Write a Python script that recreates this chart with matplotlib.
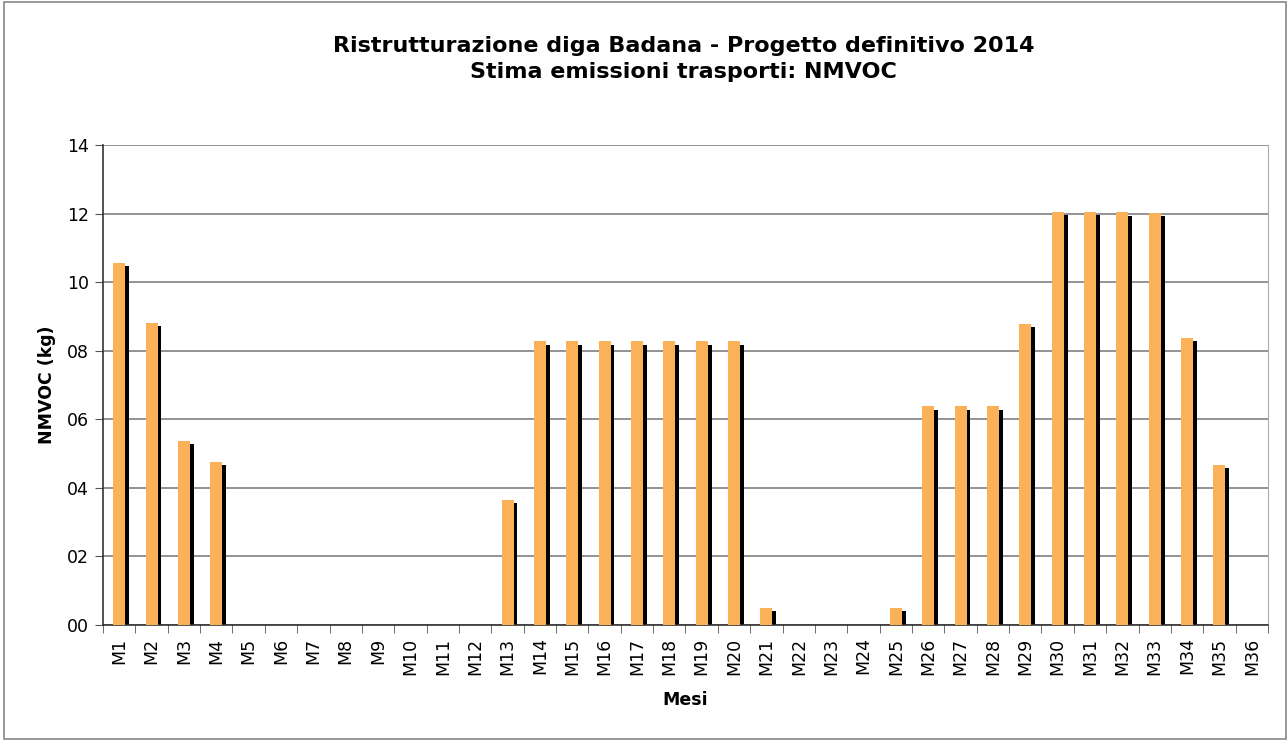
import numpy as np
import matplotlib.pyplot as plt
from matplotlib.patches import Rectangle

months = ['M%d' % i for i in range(1, 37)]
nmvoc = [10.57, 8.82, 5.38, 4.76, 0, 0, 0, 0, 0, 0, 0, 0,
         3.65, 8.27, 8.27, 8.27, 8.27, 8.27, 8.27, 8.27, 0.5, 0, 0, 0,
         0.5, 6.38, 6.38, 6.38, 8.78, 12.06, 12.05, 12.04, 12.03, 8.38, 4.67, 0]
title = 'Ristrutturazione diga Badana - Progetto definitivo 2014\nStima emissioni trasporti: NMVOC'

bar_color = '#FBB157'

fig = plt.figure(figsize=(12.88, 7.40), dpi=100)
fig.patches.append(Rectangle((4 / 1288, 0.001), 1 - 6 / 1288, 0.996,
                             transform=fig.transFigure, fill=False,
                             edgecolor='#888888', linewidth=1.2))
ax = fig.add_axes([103 / 1288, 1 - 625 / 740, (1268 - 103) / 1288, (625 - 145) / 740])

x = np.arange(len(months))
vals = np.array(nmvoc)
w = 0.37
# shadow behind the bars
sh = np.where(vals > 0, np.maximum(vals - 0.1, 0), 0)
ax.bar(x + 0.12, sh, width=w, color='black', zorder=2)
ax.bar(x, vals, width=w, color=bar_color, zorder=3)

ax.set_xlim(-0.5, len(months) - 0.5)
ax.set_ylim(0, 14)
ax.set_yticks(np.arange(0, 15, 2))
ax.set_yticklabels(['%02d' % v for v in range(0, 15, 2)], fontsize=12.5)
ax.yaxis.grid(True, color='#808080', linewidth=1.2, zorder=0)
ax.set_axisbelow(True)

ax.set_xticks(x)
ax.set_xticklabels(months, rotation=90, fontsize=12.5)
ax.set_xticks(np.arange(-0.5, len(months), 1), minor=True)
ax.tick_params(axis='x', which='major', length=0, pad=9)
ax.tick_params(axis='x', which='minor', length=6, color='#555555')
ax.tick_params(axis='y', length=6, color='#555555', pad=4)

for s in ['left', 'bottom']:
    ax.spines[s].set_color('#333333')
    ax.spines[s].set_linewidth(1.2)
ax.spines['top'].set_visible(False)
ax.spines['right'].set_color('#aaaaaa')

ax.set_ylabel('NMVOC (kg)', fontsize=12.5, fontweight='bold', labelpad=8)
ax.set_xlabel('Mesi', fontsize=12.5, fontweight='bold', labelpad=12)
fig.text(0.531, 1 - 59 / 740, title, ha='center', va='center', fontsize=16,
         fontweight='bold', linespacing=1.4)

fig.savefig('out.png', dpi=100)
